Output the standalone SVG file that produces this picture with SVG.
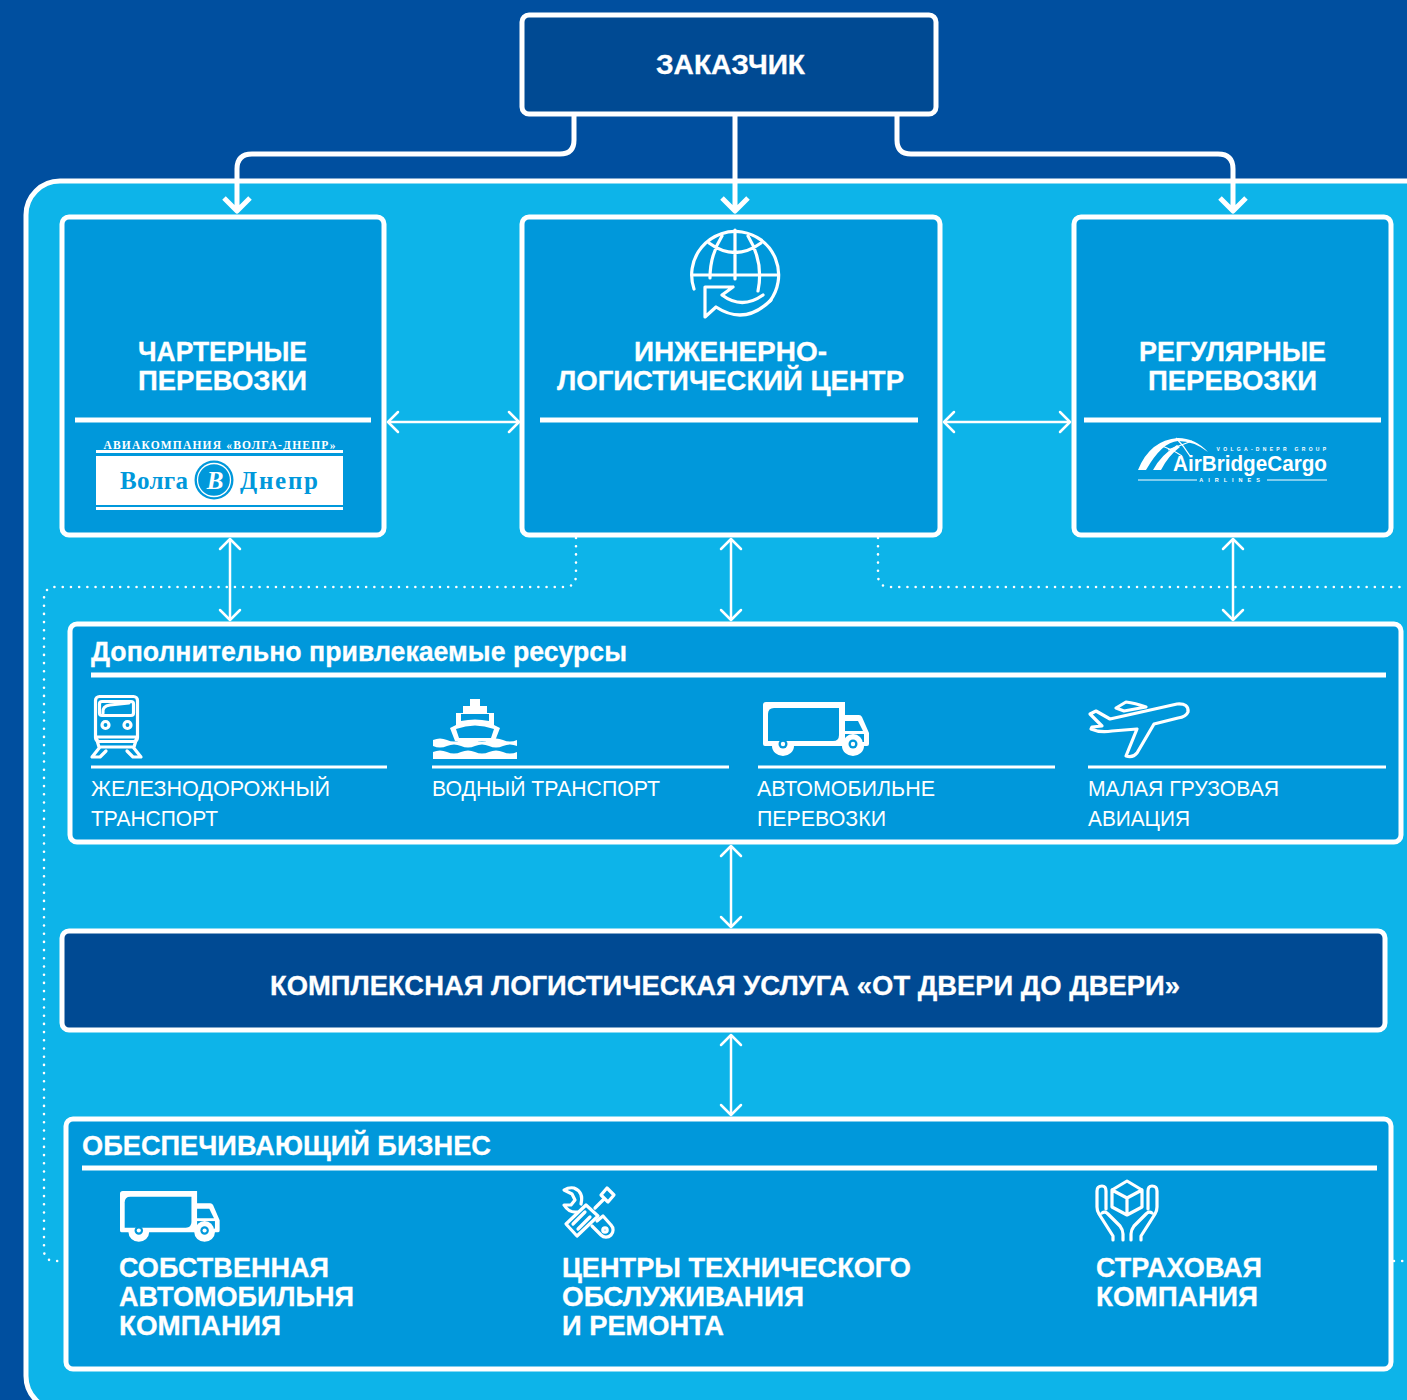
<svg xmlns="http://www.w3.org/2000/svg" width="1407" height="1400" viewBox="0 0 1407 1400">
<style>
text{font-family:"Liberation Sans",Arial,sans-serif;fill:#fff}
.t{font-weight:700;font-size:27px;text-anchor:middle;stroke:#fff;stroke-width:.3}
.h{font-weight:700;font-size:27px;stroke:#fff;stroke-width:.3}
.r{font-size:22px}
.box{fill:#0098db;stroke:#fff;stroke-width:5}
.dark{fill:#004a93;stroke:#fff;stroke-width:5}
.rule{stroke:#fff;stroke-width:5;fill:none}
.thin{stroke:#fff;stroke-width:3;fill:none}
.conn{stroke:#fff;stroke-width:5;fill:none;stroke-linejoin:round}
.dbl{stroke:#fff;stroke-width:2.5;fill:none;marker-start:url(#chev);marker-end:url(#chev)}
.dot{stroke:#fff;stroke-width:2.6;fill:none;stroke-linecap:round;stroke-dasharray:0 8.2}
.ico{stroke:#fff;fill:none;stroke-width:3.2;stroke-linejoin:round;stroke-linecap:round}
.cut{fill:#0098db}
</style>
<defs>
<marker id="chev" viewBox="-13 -12 15 24" refX="0" refY="0" markerWidth="15" markerHeight="24" markerUnits="userSpaceOnUse" orient="auto-start-reverse"><path d="M-10-10L0 0L-10 10" fill="none" stroke="#fff" stroke-width="2.500" stroke-linecap="round" stroke-linejoin="round"/></marker>
<g id="truck">
<path fill="#fff" d="M0 42V3Q0 0 3 0H82V13H96Q98 13 99 15L106 31V42Q106 44 104 44H101A11 10 0 0 1 79 44H31A11 10 0 0 1 9 44H2Q0 44 0 42Z"/>
<path class="cut" d="M5 12Q5 6 11 6H76V33Q76 39 70 39H5Z"/>
<path class="cut" d="M82 19H95L100 29H82Z"/>
<path class="cut" d="M82 32H101V40H82Z"/>
<circle cx="90" cy="42" r="10" fill="#fff"/>
<circle cx="20" cy="42" r="4.500" class="cut"/><circle cx="20" cy="42" r="2.200" fill="#fff"/>
<circle cx="90" cy="42" r="4.500" class="cut"/><circle cx="90" cy="42" r="2.200" fill="#fff"/>
</g>
</defs>
<rect id="background" width="1407" height="1400" fill="#004f9f"/>
<rect id="panel" x="26" y="181" width="1440" height="1229" rx="34" fill="#0db4e9" stroke="#fff" stroke-width="5"/>

<g id="connectors">
<path class="conn" d="M574 114V140Q574 154 560 154H252Q237 154 237 169V211M224 198L237 211L250 198"/>
<path class="conn" d="M735 114V211M722 198L735 211L748 198"/>
<path class="conn" d="M897 114V140Q897 154 911 154H1218Q1233 154 1233 169V211M1220 198L1233 211L1246 198"/>
<path class="dot" d="M576 538V575Q576 587 564 587H56Q44 587 44 599V1250Q44 1261 55 1261H64"/>
<path class="dot" d="M878 538V575Q878 587 890 587H1407"/>
<path class="dot" d="M1394 1261H1407"/>
<path class="dbl" d="M388 422H519"/>
<path class="dbl" d="M944 422H1070"/>
<path class="dbl" d="M230 539V620"/>
<path class="dbl" d="M731 539V620"/>
<path class="dbl" d="M1233 539V620"/>
<path class="dbl" d="M731 846V927"/>
<path class="dbl" d="M731 1035V1115"/>
</g>

<g id="customer">
<rect class="dark" x="522" y="15" width="414" height="99" rx="7"/>
<text class="t" x="730.500" y="74" textLength="149" lengthAdjust="spacingAndGlyphs">ЗАКАЗЧИК</text>
</g>

<g id="charter">
<rect class="box" x="62" y="217" width="322" height="318" rx="7"/>
<text class="t" x="222.500" y="361" textLength="169" lengthAdjust="spacingAndGlyphs">ЧАРТЕРНЫЕ</text>
<text class="t" x="222.500" y="390" textLength="169" lengthAdjust="spacingAndGlyphs">ПЕРЕВОЗКИ</text>
<path class="rule" d="M75 420H371"/>
<text x="219.500" y="449" font-size="11.500" font-weight="700" text-anchor="middle" style="font-family:'Liberation Serif',serif" textLength="232">АВИАКОМПАНИЯ  «ВОЛГА-ДНЕПР»</text>
<rect x="96" y="450" width="247" height="3" fill="#fff"/>
<rect x="96" y="456" width="247" height="49" fill="#fff"/>
<rect x="96" y="507" width="247" height="3" fill="#fff"/>
<text x="154" y="489" font-size="25" style="font-family:'Liberation Serif',serif;fill:#0098db" font-weight="700" text-anchor="middle" textLength="68">Волга</text>
<text x="279" y="489" font-size="25" style="font-family:'Liberation Serif',serif;fill:#0098db" font-weight="700" text-anchor="middle" textLength="78">Днепр</text>
<circle cx="214" cy="480" r="19.500" fill="#0098db"/>
<circle cx="214" cy="480" r="16.500" fill="none" stroke="#fff" stroke-width="1.300"/>
<text x="215" y="489" font-size="25" style="font-family:'Liberation Serif',serif" font-style="italic" font-weight="700" text-anchor="middle">В</text>
</g>

<g id="engineering">
<rect class="box" x="522" y="217" width="418" height="318" rx="7"/>
<path class="ico" stroke-width="5.200" d="M694 289A43.500 43.500 0 1 1 770 301"/>
<path class="ico" stroke-width="4" d="M692 275H778M735 230V279M722 236Q710 255 710 278M748 236Q764 262 758 291M709 243Q735 262 761 243"/>
<path class="ico" stroke-width="4.200" d="M733 287H705V317L716 307Q745 326 771 300M722 295L733 287M722 295Q742 310 763 295"/>
<text class="t" x="730.500" y="361" textLength="193" lengthAdjust="spacingAndGlyphs">ИНЖЕНЕРНО-</text>
<text class="t" x="730.500" y="390" textLength="347" lengthAdjust="spacingAndGlyphs">ЛОГИСТИЧЕСКИЙ ЦЕНТР</text>
<path class="rule" d="M540 420H918"/>
</g>

<g id="regular">
<rect class="box" x="1074" y="217" width="317" height="318" rx="7"/>
<text class="t" x="1232.500" y="361" textLength="187" lengthAdjust="spacingAndGlyphs">РЕГУЛЯРНЫЕ</text>
<text class="t" x="1232.500" y="390" textLength="169" lengthAdjust="spacingAndGlyphs">ПЕРЕВОЗКИ</text>
<path class="rule" d="M1084 420H1381"/>
<path fill="#fff" d="M1138 470Q1150 440 1178 438Q1195 438 1208 452Q1194 441 1178 441Q1162 442 1146 470Z"/>
<path fill="#fff" d="M1153 470Q1161 455 1177 445L1180 447Q1168 456 1161 470Z"/>
<path stroke="#fff" stroke-width="1.200" fill="none" d="M1158 445Q1170 448 1182 456M1176 438Q1184 446 1190 456M1168 450Q1176 447 1192 441"/>
<text x="1250" y="471" font-size="22" font-weight="700" textLength="154" lengthAdjust="spacingAndGlyphs" text-anchor="middle">AirBridgeCargo</text>
<text x="1273" y="451" font-size="5" font-weight="700" letter-spacing="3.300" text-anchor="middle">VOLGA-DNEPR GROUP</text>
<path stroke="#fff" stroke-width="1" d="M1138 480H1197M1267 480H1327"/>
<text x="1232" y="482" font-size="5.500" font-weight="700" letter-spacing="5" text-anchor="middle">AIRLINES</text>
</g>

<g id="resources">
<rect class="box" x="70" y="624" width="1331" height="218" rx="7"/>
<text class="h" x="91" y="661" textLength="536" lengthAdjust="spacingAndGlyphs">Дополнительно привлекаемые ресурсы</text>
<path class="rule" d="M91 675H1386"/>
<g id="res-rail">
<g class="ico" stroke-width="2.200">
<rect x="95.500" y="696.500" width="42" height="45" rx="4"/>
<rect x="99.500" y="701.500" width="34" height="14" rx="2.500"/>
<path d="M103 713Q102 706 110 705L129 703"/>
<circle cx="105.500" cy="725" r="3.500"/><circle cx="127.500" cy="725" r="3.500"/>
<path d="M96 737H137L134 747H99ZM100 747L92 757H100L106 751M133 747L141 757H133L127 751"/>
</g>
<path class="thin" d="M91 767H387"/>
<text class="r" x="91" y="796" textLength="239" lengthAdjust="spacingAndGlyphs">ЖЕЛЕЗНОДОРОЖНЫЙ</text>
<text class="r" x="91" y="826" textLength="127" lengthAdjust="spacingAndGlyphs">ТРАНСПОРТ</text>
</g>
<g id="res-water">
<path fill="#fff" d="M470 699H480V706H487V713H494V725L500 728L495 741H455L450 728L456 725V713H463V706H470Z"/>
<path class="cut" d="M456 729Q475 722 494 729L491 738H459Z"/>
<path class="cut" d="M461 714H489V721Q475 718 461 721Z"/>
<path fill="#fff" d="M433 740Q440 737 447 740T461 740T475 740T489 740T503 740T517 740V746Q510 743 503 746T489 746T475 746T461 746T447 746T433 746Z"/>
<path fill="#fff" d="M433 752Q440 749 447 752T461 752T475 752T489 752T503 752T517 752V759H433Z"/>
<path class="thin" d="M432 767H729"/>
<text class="r" x="432" y="796" textLength="228" lengthAdjust="spacingAndGlyphs">ВОДНЫЙ ТРАНСПОРТ</text>
</g>
<g id="res-road">
<use href="#truck" transform="translate(763 702)"/>
<path class="thin" d="M758 767H1055"/>
<text class="r" x="757" y="796" textLength="178" lengthAdjust="spacingAndGlyphs">АВТОМОБИЛЬНЕ</text>
<text class="r" x="757" y="826" textLength="129" lengthAdjust="spacingAndGlyphs">ПЕРЕВОЗКИ</text>
</g>
<g id="res-air">
<path class="ico" stroke-width="4" d="M1090 714L1096 711L1110 719L1177 704Q1189 703 1188 712Q1186 717 1178 718L1154 724L1137 753Q1133 758 1126 756L1137 729L1112 731Q1100 733 1091 729L1092 727L1102 726Z"/>
<path class="ico" stroke-width="3" d="M1116 708L1126 702Q1135 703 1146 707L1124 711Z"/>
<path class="thin" d="M1088 767H1386"/>
<text class="r" x="1088" y="796" textLength="191" lengthAdjust="spacingAndGlyphs">МАЛАЯ ГРУЗОВАЯ</text>
<text class="r" x="1088" y="826" textLength="102" lengthAdjust="spacingAndGlyphs">АВИАЦИЯ</text>
</g>
</g>

<g id="complex-service">
<rect class="dark" x="62" y="931" width="1323" height="99" rx="7"/>
<text class="t" x="725" y="995" textLength="910" lengthAdjust="spacingAndGlyphs">КОМПЛЕКСНАЯ ЛОГИСТИЧЕСКАЯ УСЛУГА «ОТ ДВЕРИ ДО ДВЕРИ»</text>
</g>

<g id="support">
<rect class="box" x="66" y="1119" width="1325" height="250" rx="7"/>
<text class="h" x="82" y="1155" textLength="409" lengthAdjust="spacingAndGlyphs">ОБЕСПЕЧИВАЮЩИЙ БИЗНЕС</text>
<path class="rule" d="M82 1168H1377"/>
<g id="sup-truck">
<use href="#truck" transform="translate(120 1191) scale(.94)"/>
<text class="h" x="119" y="1277" textLength="210" lengthAdjust="spacingAndGlyphs">СОБСТВЕННАЯ</text>
<text class="h" x="119" y="1306" textLength="235" lengthAdjust="spacingAndGlyphs">АВТОМОБИЛЬНЯ</text>
<text class="h" x="119" y="1335" textLength="162" lengthAdjust="spacingAndGlyphs">КОМПАНИЯ</text>
</g>
<g id="sup-service">
<g class="ico" stroke-width="2">
<path d="M607 1188L614 1195L608 1202L601 1195ZM604 1199L595 1208"/>
<path d="M586 1205L598 1216L577 1236L566 1224Z"/>
<path d="M573 1224L585 1212M578 1229L590 1217"/>
<path d="M581 1204Q584 1192 574 1188Q569 1187 564 1190L572 1194L575 1200L571 1205H564Q569 1213 577 1212"/>
<path d="M597 1221L603 1216L611 1225A7 7 0 0 1 601 1235L592 1226"/>
<circle cx="605" cy="1230" r="2.200"/>
</g>
<text class="h" x="562" y="1277" textLength="349" lengthAdjust="spacingAndGlyphs">ЦЕНТРЫ ТЕХНИЧЕСКОГО</text>
<text class="h" x="562" y="1306" textLength="242" lengthAdjust="spacingAndGlyphs">ОБСЛУЖИВАНИЯ</text>
<text class="h" x="562" y="1335" textLength="162" lengthAdjust="spacingAndGlyphs">И РЕМОНТА</text>
</g>
<g id="sup-insurance">
<g class="ico" stroke-width="3">
<path d="M1127 1181L1142 1190V1207L1127 1215L1112 1207V1190ZM1112 1190L1127 1198L1142 1190M1127 1198V1215"/>
<path d="M1113 1240V1236L1099 1214Q1097 1211 1097 1207V1191Q1097 1186 1102 1186Q1106 1186 1106 1191V1209M1102 1213Q1105 1211 1108 1214L1120 1226Q1123 1230 1123 1234V1240"/>
<path d="M1141 1240V1236L1155 1214Q1157 1211 1157 1207V1191Q1157 1186 1152 1186Q1148 1186 1148 1191V1209M1152 1213Q1149 1211 1146 1214L1134 1226Q1131 1230 1131 1234V1240"/>
</g>
<text class="h" x="1096" y="1277" textLength="166" lengthAdjust="spacingAndGlyphs">СТРАХОВАЯ</text>
<text class="h" x="1096" y="1306" textLength="162" lengthAdjust="spacingAndGlyphs">КОМПАНИЯ</text>
</g>
</g>
</svg>
